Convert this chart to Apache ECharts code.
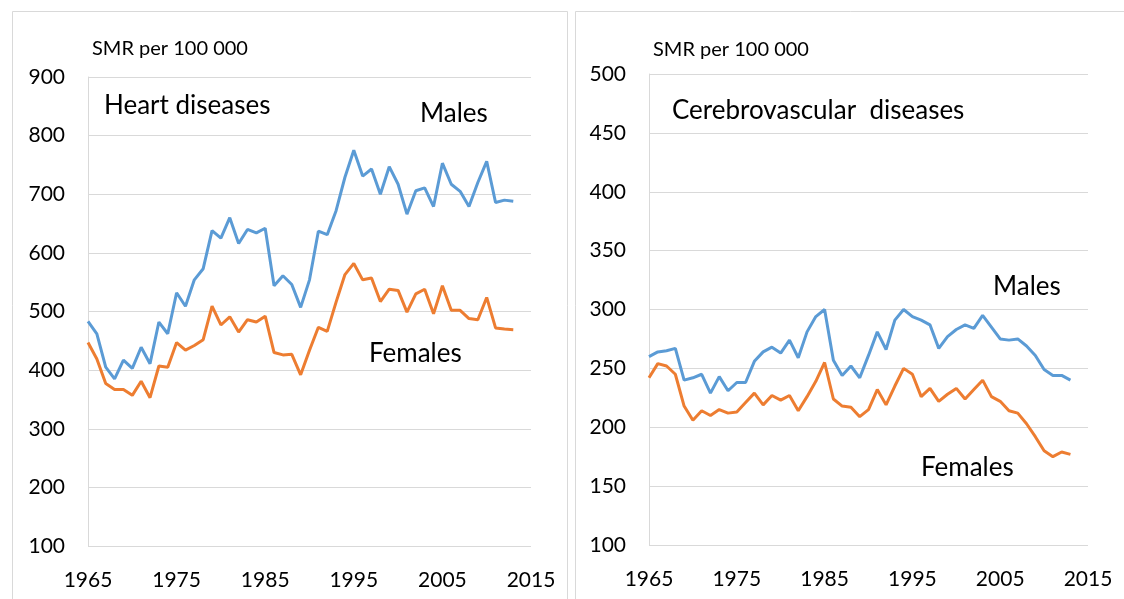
<!DOCTYPE html>
<html>
<head>
<meta charset="utf-8">
<script src="https://cdn.jsdelivr.net/npm/echarts@6/dist/echarts.min.js"></script>
<style>
  html, body { margin: 0; padding: 0; background: #fff; }
  #chart { width: 1124px; height: 599px; }
</style>
</head>
<body>
<div id="chart"></div>
<script>
const BLUE = '#5B9BD5';
const ORANGE = '#ED7D31';
const GRID_COLOR = '#d9d9d9';
const FONT = 'Lato, "Liberation Sans", sans-serif';

// years 1965..2013
const years = [];
for (let y = 1965; y <= 2013; y++) years.push(y);

const heartMales = [
  483, 462, 405, 385, 417, 403, 439, 411, 482, 462,
  532, 509, 554, 573, 638, 625, 660, 616, 640, 634,
  642, 544, 561, 546, 507, 554, 637, 631, 672, 729,
  775, 731, 743, 700, 747, 717, 666, 706, 711, 679,
  753, 717, 705, 679, 720, 756, 686, 690, 688
];
const heartFemales = [
  447, 419, 377, 367, 367, 357, 381, 353, 407, 405,
  447, 434, 442, 452, 509, 477, 491, 465, 486, 482,
  492, 430, 426, 427, 392, 434, 473, 466, 516, 563,
  582, 554, 557, 517, 538, 536, 499, 530, 538, 496,
  544, 502, 502, 488, 486, 524, 472, 470, 469
];
const cerebroMales = [
  260, 264, 265, 267, 240, 242, 245, 229, 243, 231,
  238, 238, 256, 264, 268, 263, 274, 259, 281, 294,
  300, 257, 244, 252, 242, 261, 281, 266, 291, 300,
  294, 291, 287, 267, 277, 283, 287, 284, 295, 285,
  275, 274, 275, 269, 261, 249, 244, 244, 240
];
const cerebroFemales = [
  242, 254, 252, 245, 218, 206, 214, 210, 215, 212,
  213, 221, 229, 219, 227, 223, 227, 214, 226, 239,
  255, 224, 218, 217, 209, 215, 232, 219, 235, 250,
  245, 226, 233, 222, 228, 233, 224, 232, 240, 226,
  222, 214, 212, 203, 192, 180, 175, 179, 177
];

const pair = (vals) => vals.map((v, i) => [years[i], v]);

const labelStyle = { color: '#000', fontFamily: FONT, fontSize: 21 };

function xAxisFor(gridIndex) {
  return {
    type: 'value',
    gridIndex,
    min: 1965,
    max: 2015,
    interval: 10,
    axisLine: { show: false },
    axisTick: { show: false },
    splitLine: { show: false },
    axisLabel: { ...labelStyle, margin: 24, formatter: (v) => String(v) }
  };
}

function yAxisFor(gridIndex, max, interval) {
  return {
    type: 'value',
    gridIndex,
    min: 100,
    max,
    interval,
    axisLine: { show: true, lineStyle: { color: GRID_COLOR, width: 1 } },
    axisTick: { show: false },
    splitLine: { lineStyle: { color: GRID_COLOR, width: 1 } },
    axisLabel: { ...labelStyle, margin: 23 }
  };
}

function lineSeries(name, idx, data, color) {
  return {
    name,
    type: 'line',
    xAxisIndex: idx,
    yAxisIndex: idx,
    data,
    showSymbol: false,
    smooth: false,
    itemStyle: { color },
    lineStyle: { color, width: 3 }
  };
}

function txt(x, y, text, size) {
  return {
    type: 'text',
    left: x,
    top: y,
    style: { text, fill: '#000', font: `${size}px ${FONT}` }
  };
}

const chartOptions = {
  animation: false,
  backgroundColor: '#fff',
  grid: [
    { left: 88, right: 593, top: 77, bottom: 53 },
    { left: 649, right: 36, top: 74, bottom: 54 }
  ],
  xAxis: [xAxisFor(0), xAxisFor(1)],
  yAxis: [yAxisFor(0, 900, 100), yAxisFor(1, 500, 50)],
  series: [
    lineSeries('Heart males', 0, pair(heartMales), BLUE),
    lineSeries('Heart females', 0, pair(heartFemales), ORANGE),
    lineSeries('Cerebro males', 1, pair(cerebroMales), BLUE),
    lineSeries('Cerebro females', 1, pair(cerebroFemales), ORANGE)
  ],
  graphic: [
    {
      type: 'rect',
      shape: { x: 12.5, y: 11.5, width: 555, height: 600 },
      style: { fill: 'none', stroke: GRID_COLOR, lineWidth: 1 }
    },
    {
      type: 'rect',
      shape: { x: 575.5, y: 11.5, width: 560, height: 600 },
      style: { fill: 'none', stroke: GRID_COLOR, lineWidth: 1 }
    },
    txt(92, 39, 'SMR per 100 000', 20),
    txt(104, 93, 'Heart diseases', 26),
    txt(420, 101, 'Males', 26),
    txt(369, 341, 'Females', 26),
    txt(653, 40, 'SMR per 100 000', 20),
    txt(672, 98, 'Cerebrovascular  diseases', 26),
    txt(993, 274, 'Males', 26),
    txt(921, 455, 'Females', 26)
  ]
};

const chart = echarts.init(document.getElementById('chart'));
chart.setOption(chartOptions);
</script>
</body>
</html>
